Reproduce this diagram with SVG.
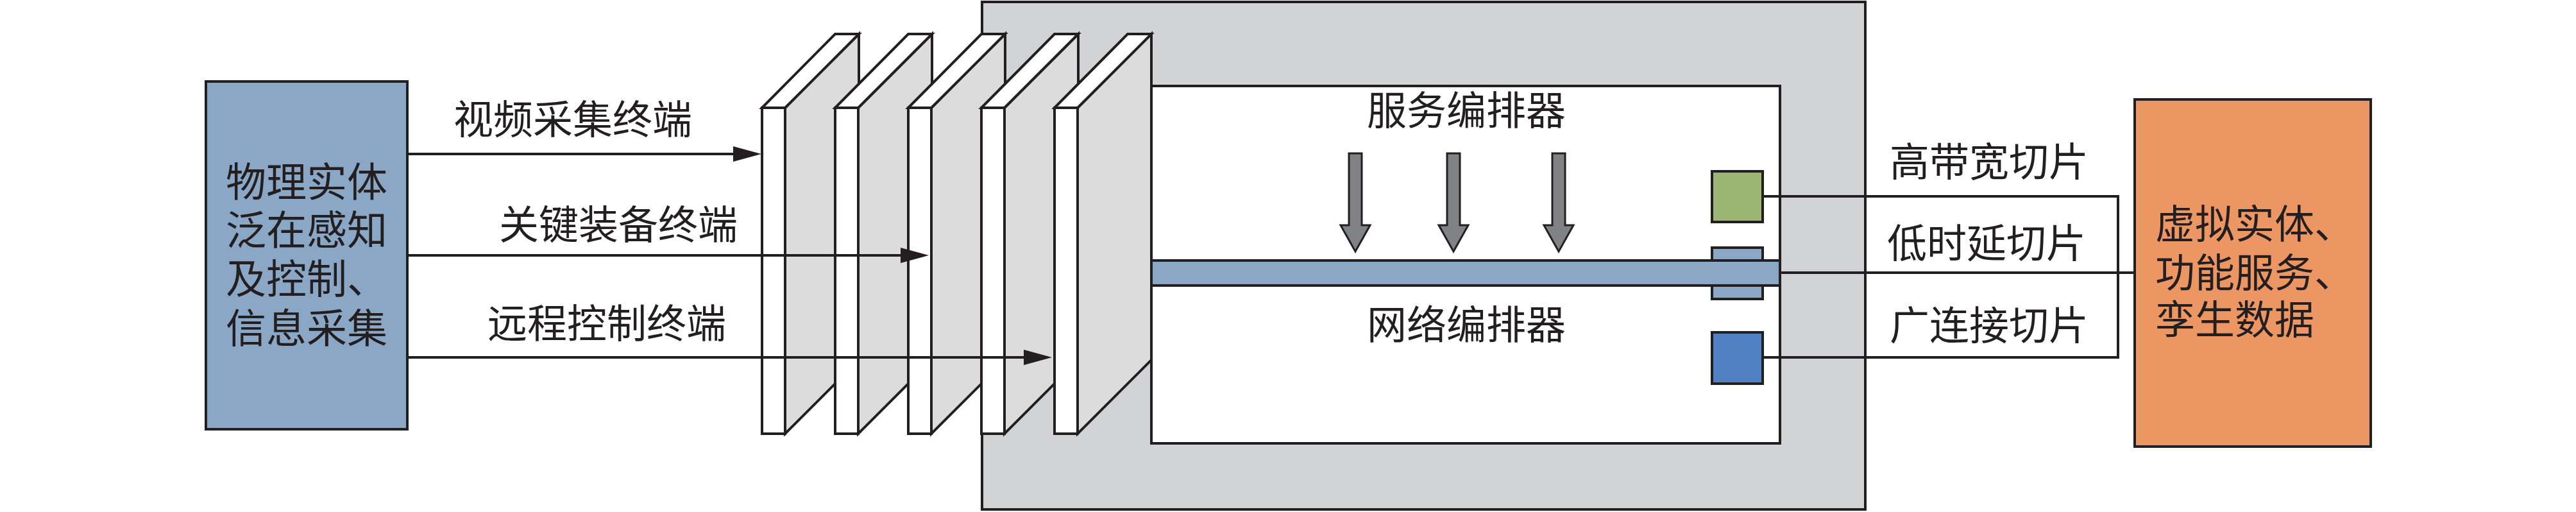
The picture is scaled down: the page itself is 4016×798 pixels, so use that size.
<svg xmlns="http://www.w3.org/2000/svg" width="4016" height="798" viewBox="0 0 4016 798">
<style>
.ln{stroke:#231f20;stroke-width:4;fill:none}
.bx{stroke:#231f20;stroke-width:4}
.side{fill:#dcdcdd;stroke:#231f20;stroke-width:4;stroke-linejoin:miter}
.top{fill:#ffffff;stroke:#231f20;stroke-width:4}
.front{fill:#ffffff;stroke:#231f20;stroke-width:4}
.t{font-family:"Liberation Sans","Noto Sans CJK SC",sans-serif;fill:#231f20;dominant-baseline:central}
.dn{fill:#808285;stroke:#231f20;stroke-width:3}
</style>
<defs>
<marker id="ah" markerUnits="userSpaceOnUse" markerWidth="44" markerHeight="24" refX="36" refY="12" orient="auto">
<path d="M0,0 L44,12 L0,24 z" fill="#231f20"/>
</marker>
<path id="down" d="M-10,0 L10,0 L10,112 L23,112 L0,153 L-23,112 L-10,112 z"/>
</defs>
<rect width="4016" height="798" fill="#ffffff"/>

<g id="physical">
<rect class="bx" x="321" y="127" width="314" height="542" fill="#8ba7c6"/>
<text class="t" font-size="63" x="478" y="284" text-anchor="middle">物理实体</text>
<text class="t" font-size="63" x="478" y="359" text-anchor="middle">泛在感知</text>
<text class="t" font-size="63" x="478" y="435" text-anchor="middle">及控制、</text>
<text class="t" font-size="63" x="478" y="512" text-anchor="middle">信息采集</text>
</g>

<g id="platform">
<rect class="bx" x="1531" y="3" width="1377" height="791" fill="#d1d3d4"/>
</g>

<g id="panel1">
<polygon class="side" points="1224,168 1339,53 1339,561 1224,676"/>
<polygon class="top" points="1188,168 1302,53 1339,53 1224,168"/>
<rect class="front" x="1188" y="168" width="36" height="508"/>
</g>
<g id="panel2">
<polygon class="side" points="1338,168 1453,53 1453,561 1338,676"/>
<polygon class="top" points="1302,168 1416,53 1453,53 1338,168"/>
<rect class="front" x="1302" y="168" width="36" height="508"/>
</g>
<g id="panel3">
<polygon class="side" points="1452,168 1567,53 1567,561 1452,676"/>
<polygon class="top" points="1416,168 1530,53 1567,53 1452,168"/>
<rect class="front" x="1416" y="168" width="36" height="508"/>
</g>
<g id="panel4">
<polygon class="side" points="1566,168 1681,53 1681,561 1566,676"/>
<polygon class="top" points="1530,168 1644,53 1681,53 1566,168"/>
<rect class="front" x="1530" y="168" width="36" height="508"/>
</g>
<g id="panel5">
<polygon class="side" points="1680,168 1795,53 1795,561 1680,676"/>
<polygon class="top" points="1644,168 1758,53 1795,53 1680,168"/>
<rect class="front" x="1644" y="168" width="36" height="508"/>
</g>

<g id="orchestrator">
<rect class="bx" x="1795" y="134" width="980" height="557" fill="#ffffff"/>
<text class="t" font-size="62" x="2286" y="173" text-anchor="middle">服务编排器</text>
<text class="t" font-size="62" x="2286" y="507" text-anchor="middle">网络编排器</text>
<use href="#down" class="dn" x="2113" y="239"/>
<use href="#down" class="dn" x="2266" y="239"/>
<use href="#down" class="dn" x="2430" y="239"/>
</g>

<g id="slice-high-bandwidth">
<rect class="bx" x="2669" y="267" width="79" height="79" fill="#9bb573"/>
</g>
<g id="slice-low-latency">
<rect class="bx" x="2669" y="386" width="79" height="80" fill="#8ba7c6"/>
</g>
<g id="slice-wide-connection">
<rect class="bx" x="2669" y="518" width="79" height="80" fill="#4f81c3"/>
</g>
<g id="bus">
<rect class="bx" x="1795" y="406" width="980" height="39" fill="#8ba7c6"/>
</g>

<g id="virtual">
<rect class="bx" x="3328" y="155" width="368" height="541" fill="#ec9663"/>
<text class="t" font-size="62" x="3360" y="350">虚拟实体、</text>
<text class="t" font-size="62" x="3360" y="426">功能服务、</text>
<text class="t" font-size="62" x="3360" y="499">孪生数据</text>
</g>

<g id="connectors">
<line class="ln" x1="635" y1="240" x2="1179" y2="240" marker-end="url(#ah)"/>
<line class="ln" x1="635" y1="398" x2="1440" y2="398" marker-end="url(#ah)"/>
<line class="ln" x1="635" y1="557" x2="1632" y2="557" marker-end="url(#ah)"/>
<polyline class="ln" points="2748,306 3302,306 3302,557 2748,557"/>
<line class="ln" x1="2775" y1="425" x2="3328" y2="425"/>
<text class="t" font-size="62" x="893" y="187" text-anchor="middle">视频采集终端</text>
<text class="t" font-size="62" x="964" y="351" text-anchor="middle">关键装备终端</text>
<text class="t" font-size="62" x="946" y="505" text-anchor="middle">远程控制终端</text>
<text class="t" font-size="62" x="3101" y="253" text-anchor="middle">高带宽切片</text>
<text class="t" font-size="62" x="3097" y="380" text-anchor="middle">低时延切片</text>
<text class="t" font-size="62" x="3101" y="508" text-anchor="middle">广连接切片</text>
</g>
</svg>
